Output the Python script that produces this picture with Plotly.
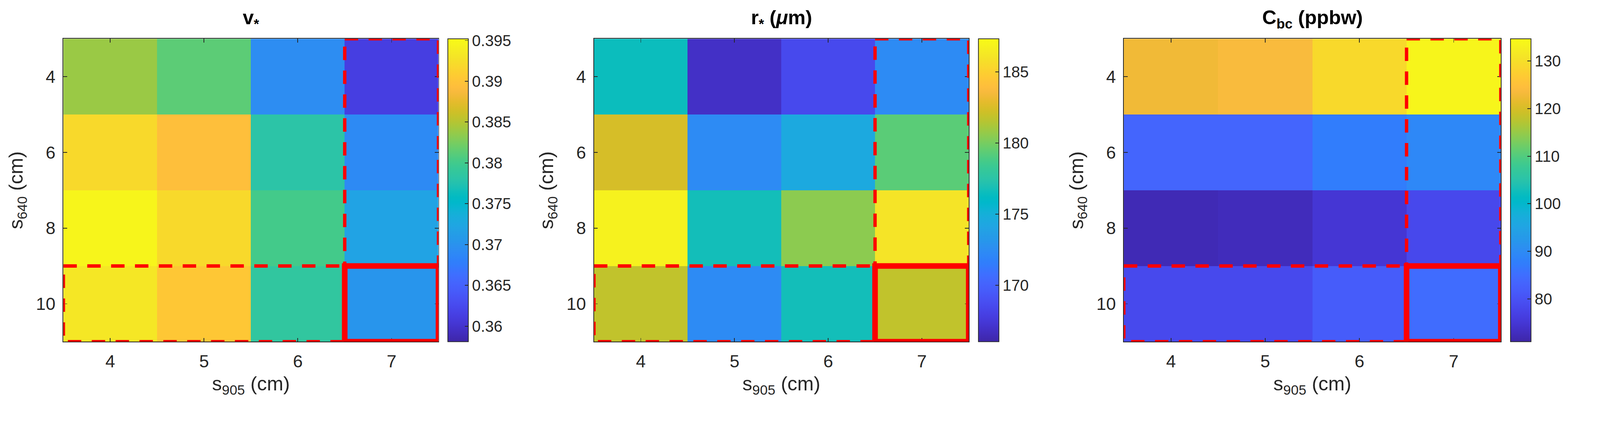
import plotly.graph_objects as go

# ---------------- data ----------------
s905 = [4, 5, 6, 7]          # x categories (cm)
s640 = [4, 6, 8, 10]         # y categories (cm)

v_star = [
    [0.3839, 0.3813, 0.3694, 0.3613],
    [0.3920, 0.3894, 0.3781, 0.3691],
    [0.3946, 0.3920, 0.3801, 0.3720],
    [0.3932, 0.3903, 0.3787, 0.3703],
]
v_clim = [0.3581, 0.3952]
v_ticks = [0.36, 0.365, 0.37, 0.375, 0.38, 0.385, 0.39, 0.395]

r_star = [
    [176.5, 166.9, 168.5, 172.4],
    [182.4, 172.4, 174.5, 179.3],
    [186.8, 176.7, 180.5, 186.0],
    [181.8, 172.4, 176.7, 181.8],
]
r_clim = [166.03, 187.32]
r_ticks = [170, 175, 180, 185]

c_bc = [
    [122.7, 123.7, 129.2, 133.7],
    [83.4, 83.4, 87.4, 89.3],
    [72.1, 72.6, 74.9, 78.2],
    [78.4, 78.4, 81.8, 84.6],
]
c_clim = [70.98, 134.68]
c_ticks = [80, 90, 100, 110, 120, 130]

titles = ["<b>v<sub>*</sub></b>", "<b>r<sub>*</sub> (<i>μ</i>m)</b>", "<b>C<sub>bc</sub> (ppbw)</b>"]
x_title = "s<sub>905</sub> (cm)"
y_title = "s<sub>640</sub> (cm)"

# MATLAB parula (R2014b) 64 colours
parula = [
    [0.2422, 0.1504, 0.6603], [0.2504, 0.1650, 0.7076], [0.2578, 0.1818, 0.7511], [0.2647, 0.1978, 0.7952],
    [0.2706, 0.2147, 0.8364], [0.2751, 0.2342, 0.8710], [0.2783, 0.2559, 0.8991], [0.2803, 0.2782, 0.9221],
    [0.2813, 0.3006, 0.9414], [0.2810, 0.3228, 0.9579], [0.2795, 0.3447, 0.9717], [0.2760, 0.3667, 0.9829],
    [0.2699, 0.3892, 0.9906], [0.2602, 0.4123, 0.9952], [0.2440, 0.4358, 0.9988], [0.2206, 0.4603, 0.9973],
    [0.1963, 0.4847, 0.9892], [0.1834, 0.5074, 0.9798], [0.1786, 0.5289, 0.9682], [0.1764, 0.5499, 0.9520],
    [0.1687, 0.5703, 0.9359], [0.1540, 0.5902, 0.9218], [0.1460, 0.6091, 0.9079], [0.1380, 0.6276, 0.8973],
    [0.1248, 0.6459, 0.8883], [0.1113, 0.6635, 0.8763], [0.0952, 0.6798, 0.8598], [0.0689, 0.6948, 0.8394],
    [0.0297, 0.7082, 0.8163], [0.0036, 0.7203, 0.7917], [0.0067, 0.7312, 0.7660], [0.0433, 0.7411, 0.7394],
    [0.0964, 0.7500, 0.7120], [0.1408, 0.7584, 0.6842], [0.1717, 0.7670, 0.6554], [0.1938, 0.7758, 0.6251],
    [0.2161, 0.7843, 0.5923], [0.2470, 0.7918, 0.5567], [0.2906, 0.7973, 0.5188], [0.3406, 0.8008, 0.4789],
    [0.3909, 0.8029, 0.4354], [0.4456, 0.8024, 0.3909], [0.5044, 0.7993, 0.3480], [0.5616, 0.7942, 0.3045],
    [0.6174, 0.7876, 0.2612], [0.6720, 0.7793, 0.2227], [0.7242, 0.7698, 0.1910], [0.7738, 0.7598, 0.1646],
    [0.8203, 0.7498, 0.1535], [0.8634, 0.7406, 0.1596], [0.9035, 0.7330, 0.1774], [0.9393, 0.7288, 0.2100],
    [0.9728, 0.7298, 0.2394], [0.9956, 0.7434, 0.2371], [0.9970, 0.7659, 0.2199], [0.9952, 0.7893, 0.2028],
    [0.9892, 0.8136, 0.1885], [0.9786, 0.8386, 0.1766], [0.9676, 0.8639, 0.1643], [0.9610, 0.8890, 0.1537],
    [0.9597, 0.9135, 0.1423], [0.9628, 0.9373, 0.1265], [0.9691, 0.9606, 0.1064], [0.9769, 0.9839, 0.0805],
]
colorscale = [[i / (len(parula) - 1), "rgb(%d,%d,%d)" % tuple(round(c * 255) for c in rgb)]
              for i, rgb in enumerate(parula)]

# ---------------- layout ----------------
W, H = 4291, 1085
FONT = "Liberation Sans, Arial, Helvetica, sans-serif"
AXC = "#262626"

# pixel geometry of each panel: (axis left, axis right, colorbar left)
panels = [(170, 1176, 1201), (1593, 2598, 2624), (3014, 4025, 4051)]
ax_top, ax_bot = 104, 916
y0 = 1 - ax_bot / H
y1 = 1 - ax_top / H

datasets = [(v_star, v_clim, v_ticks), (r_star, r_clim, r_ticks), (c_bc, c_clim, c_ticks)]

fig = go.Figure()
layout = dict(
    width=W, height=H,
    margin=dict(l=0, r=0, t=0, b=0),
    paper_bgcolor="white", plot_bgcolor="white",
    font=dict(family=FONT, color=AXC, size=46),
    showlegend=False,
    shapes=[], annotations=[],
)

for i, ((xl, xr, cbl), (z, clim, cticks)) in enumerate(zip(panels, datasets)):
    n = "" if i == 0 else str(i + 1)
    xa, ya = "x" + n, "y" + n
    fig.add_trace(go.Heatmap(
        x=s905, y=s640, z=z, xaxis=xa, yaxis=ya,
        colorscale=colorscale, zmin=clim[0], zmax=clim[1],
        colorbar=dict(
            x=cbl / W, xanchor="left", xpad=0, ypad=0,
            y=(y0 + y1) / 2, yanchor="middle", len=(y1 - y0), lenmode="fraction",
            thickness=55, thicknessmode="pixels",
            outlinewidth=2, outlinecolor=AXC,
            tickvals=cticks, ticks="inside", ticklen=10, tickwidth=2, tickcolor=AXC,
            tickfont=dict(size=42, color=AXC, family=FONT),
        ),
    ))
    layout["xaxis" + n] = dict(
        domain=[xl / W, xr / W], anchor=ya, range=[3.5, 7.5],
        tickvals=s905, ticks="inside", ticklen=10, tickwidth=2, tickcolor=AXC,
        showline=True, linecolor=AXC, linewidth=2, mirror="ticks",
        showgrid=False, zeroline=False, ticklabelstandoff=10,
        tickfont=dict(size=47, color=AXC),
        title=dict(text=x_title, font=dict(size=53, color=AXC), standoff=16),
    )
    layout["yaxis" + n] = dict(
        domain=[y0, y1], anchor=xa, range=[11, 3],
        tickvals=s640, ticks="inside", ticklen=10, tickwidth=2, tickcolor=AXC,
        showline=True, linecolor=AXC, linewidth=2, mirror="ticks",
        showgrid=False, zeroline=False, ticklabelstandoff=10,
        tickfont=dict(size=47, color=AXC),
        title=dict(text=y_title, font=dict(size=53, color=AXC), standoff=18),
    )
    layout["annotations"].append(dict(
        text=titles[i], xref="paper", yref="paper",
        x=(xl + xr) / 2 / W, y=1 - 50 / H, xanchor="center", yanchor="middle",
        showarrow=False, font=dict(size=53, color="black", family=FONT),
    ))
    dash = "36px,28px"
    # dashed column box (s905 = 7, upper rows)
    layout["shapes"].append(dict(type="rect", xref=xa, yref=ya, x0=6.5, x1=7.5, y0=3, y1=9,
                                 line=dict(color="red", width=9, dash=dash), layer="above"))
    # dashed row box (s640 = 10, left columns)
    layout["shapes"].append(dict(type="rect", xref=xa, yref=ya, x0=3.5, x1=6.5, y0=9, y1=11,
                                 line=dict(color="red", width=9, dash=dash), layer="above"))
    # solid box on selected cell
    layout["shapes"].append(dict(type="rect", xref=xa, yref=ya, x0=6.5, x1=7.5, y0=9, y1=11,
                                 line=dict(color="red", width=15), layer="above"))

fig.update_layout(**layout)

# fit the fixed-size figure to the browser viewport (no body margin, no scrollbars)
post = """
var gd = document.getElementById('{plot_id}');
document.documentElement.style.margin = '0';
document.body.style.margin = '0';
document.body.style.overflow = 'hidden';
var s = Math.min(window.innerWidth / %d, window.innerHeight / %d);
gd.style.transformOrigin = '0 0';
gd.style.transform = 'scale(' + s + ')';
""" % (W, H)
fig.write_html("out.html", post_script=post, config={"displayModeBar": False})
